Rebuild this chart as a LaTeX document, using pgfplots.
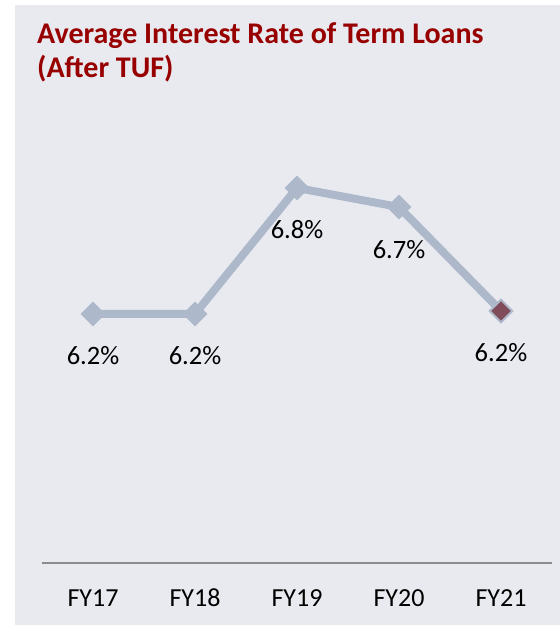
\documentclass[border=0pt]{standalone}
\usepackage{fontspec}
\setmainfont{Carlito}
\usepackage{pgfplots}
\usepackage{pgfplotstable}
\pgfplotsset{compat=1.18}
\definecolor{bgc}{RGB}{232,234,240}
\definecolor{linec}{RGB}{173,185,202}
\definecolor{titlered}{RGB}{152,0,0}
\definecolor{maroonm}{RGB}{128,75,90}
\definecolor{axisgray}{RGB}{140,140,140}
\pgfplotstableread{
x y label
0 6.186 6.2\%
1 6.186 6.2\%
2 6.786 6.8\%
3 6.695 6.7\%
4 6.200 6.2\%
}\datatable
\begin{document}
\begin{tikzpicture}[x=1pt,y=1pt]
\useasboundingbox (0,0) rectangle (560,625);
\fill[bgc] (15,0) rectangle (560,620);
\node[anchor=base west, inner sep=0, text=titlered, font=\fontsize{30}{34}\selectfont\bfseries] at (37,581) {Average Interest Rate of Term Loans};
\node[anchor=base west, inner sep=0, text=titlered, font=\fontsize{30}{34}\selectfont\bfseries] at (37,547) {(After TUF)};
\begin{axis}[
  at={(42pt,62pt)}, anchor=south west,
  scale only axis, width=510pt, height=420pt,
  xmin=-0.5, xmax=4.5, ymin=5, ymax=7,
  hide y axis,
  axis x line=bottom,
  x axis line style={-, draw=axisgray, line width=1.3pt},
  xtick={0,1,2,3,4},
  xticklabels={FY17,FY18,FY19,FY20,FY21},
  major tick length=0pt,
  xticklabel style={anchor=base, yshift=-44pt, font=\fontsize{26}{26}\selectfont, text=black},
  clip=false,
]
\addplot[color=linec, line width=8pt, mark=square*, mark size=8.5pt,
  mark options={rotate=45, fill=linec, draw=linec, line width=0.5pt},
  point meta=explicit symbolic,
  nodes near coords,
  every node near coord/.append style={anchor=base, yshift=-51pt, text=black, font=\fontsize{26.5}{26.5}\selectfont, rotate=0}
] table[x=x, y=y, meta=label] {\datatable};
\addplot[only marks, mark=square*, mark size=8pt,
  mark options={rotate=45, fill=maroonm, draw=linec, line width=2pt}
] coordinates {(4,6.200)};
\end{axis}
\end{tikzpicture}
\end{document}
